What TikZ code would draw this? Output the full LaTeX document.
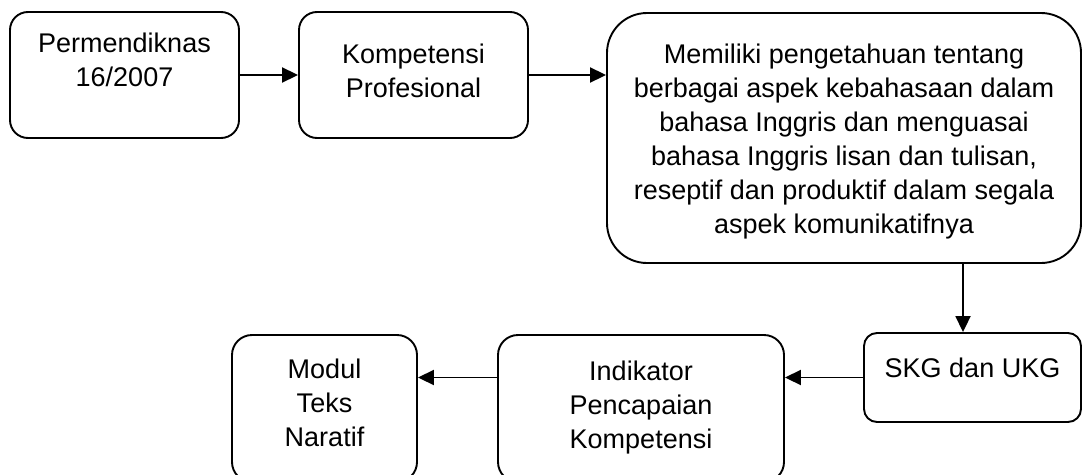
\documentclass[tikz,border=0pt]{standalone}
\usepackage{fontspec}
\setmainfont{Liberation Sans}
\usetikzlibrary{arrows.meta}

\begin{document}
\begin{tikzpicture}[x=1pt, y=-1pt,
    box/.style={draw, line width=1.9pt, rectangle, inner sep=0pt},
    label/.style={anchor=base, align=center, inner sep=0pt, font=\fontsize{27}{34}\selectfont},
    arrow/.style={line width=1.9pt, -{Triangle[length=16pt, width=15pt]}}]
% Set the page size
\useasboundingbox (0, 0) rectangle (1083, 474);
\clip (0, 0) rectangle (1083, 474);

% Draw the boxes of the top row (text placed by the baseline of its last line)
\node[box, rounded corners=18pt, minimum width=229pt, minimum height=126pt] (perm) at (124.5, 75) {};
\node[label] (permtext) at (124.5, 86) {Permendiknas\\16/2007};
\node[box, rounded corners=18pt, minimum width=229pt, minimum height=126pt] (komp) at (413.5, 75) {};
\node[label] (komptext) at (413.5, 97) {Kompetensi\\Profesional};
\node[box, rounded corners=40pt, minimum width=474pt, minimum height=250pt] (memiliki) at (844, 138) {};
\node[label] (memilikitext) at (844, 233) {Memiliki pengetahuan tentang\\berbagai aspek kebahasaan dalam\\bahasa Inggris dan menguasai\\bahasa Inggris lisan dan tulisan,\\reseptif dan produktif dalam segala\\aspek komunikatifnya};

% Draw the boxes of the bottom row
\node[box, rounded corners=13pt, minimum width=217pt, minimum height=89pt] (skg) at (972.5, 377.5) {};
\node[label] (skgtext) at (972.5, 377) {SKG dan UKG};
\node[box, rounded corners=20pt, minimum width=286pt, minimum height=147pt] (indikator) at (641, 408.5) {};
\node[label] (indikatortext) at (641, 448) {Indikator\\Pencapaian\\Kompetensi};
\node[box, rounded corners=20pt, minimum width=185pt, minimum height=147pt] (modul) at (324.5, 408.5) {};
\node[label] (modultext) at (324.5, 446) {Modul\\Teks\\Naratif};

% Draw the arrows
\draw[arrow] (perm) -- (komp);
\draw[arrow] (komp.east) -- (komp.east -| memiliki.west);
\draw[arrow] ([xshift=-9.5pt]skg.north |- memiliki.south) -- ([xshift=-9.5pt]skg.north);
\draw[arrow] (skg.west) -- (skg.west -| indikator.east);
\draw[arrow] (indikator.west |- skg.west) -- (modul.east |- skg.west);
\end{tikzpicture}
\end{document}
